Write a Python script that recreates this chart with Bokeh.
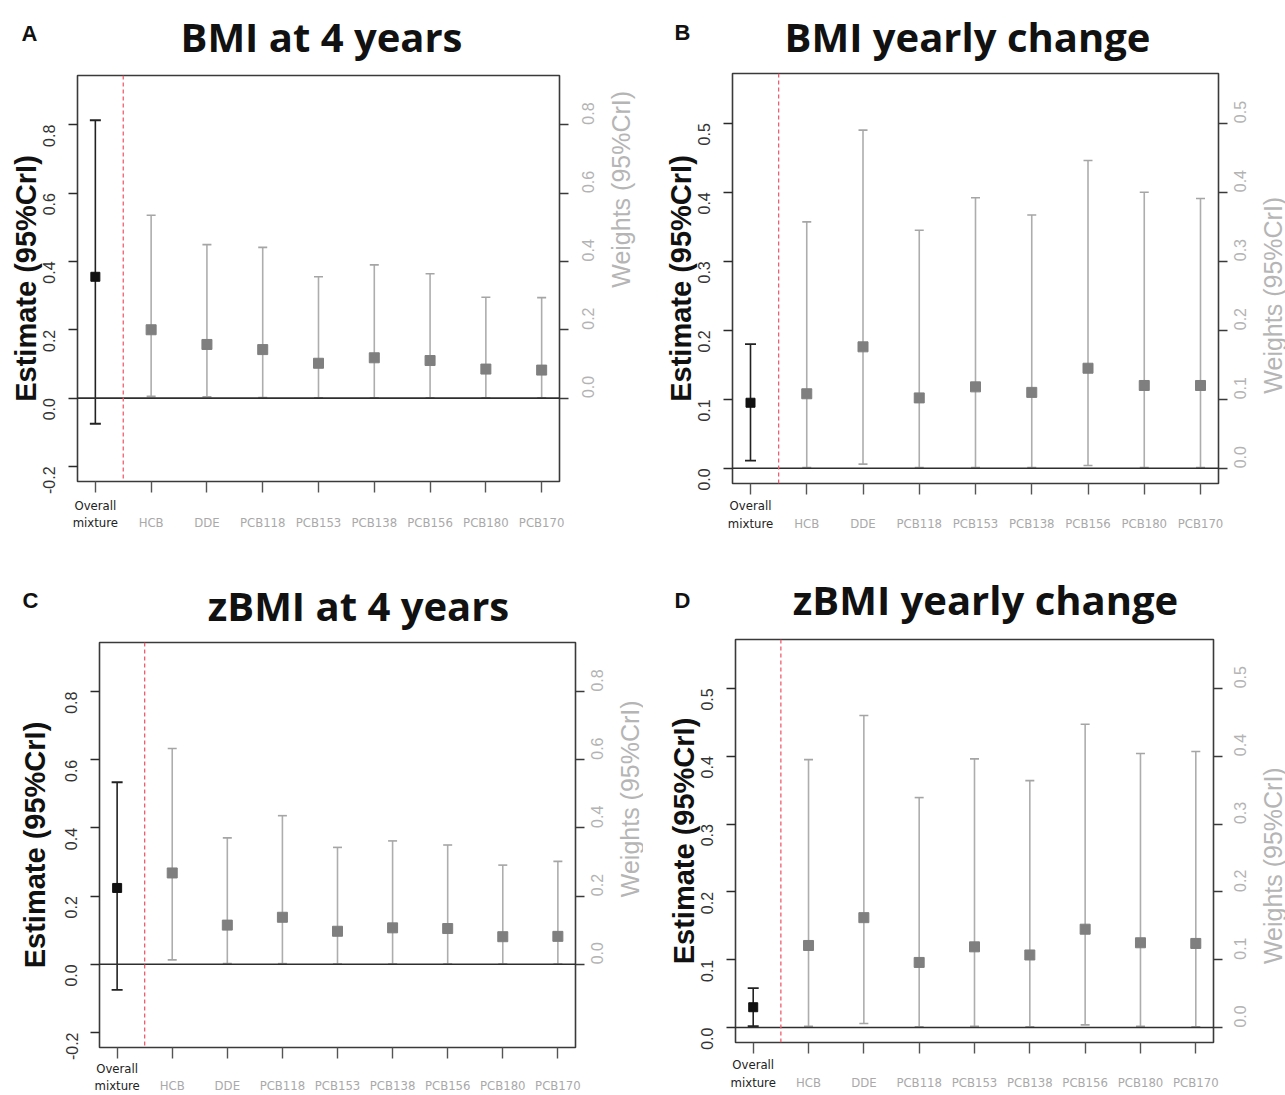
import math
from bokeh.plotting import figure
from bokeh.models import (Range1d, LinearAxis, Span, Whisker, ColumnDataSource,
                          FixedTicker, TeeHead, NumeralTickFormatter)
from bokeh.layouts import row, column
from bokeh.core.properties import value
from bokeh.embed import file_html
from bokeh.resources import INLINE

# ---------------- data ----------------
categories = ["Overall mixture", "HCB", "DDE", "PCB118", "PCB153",
              "PCB138", "PCB156", "PCB180", "PCB170"]
positions = [1, 2, 3, 4, 5, 6, 7, 8, 9]

A_est = [0.355, 0.200, 0.157, 0.142, 0.102, 0.118, 0.110, 0.085, 0.082]
A_lo = [-0.075, 0.005, 0.004, 0.002, 0.001, 0.001, 0.001, 0.001, 0.001]
A_hi = [0.813, 0.535, 0.449, 0.441, 0.355, 0.390, 0.364, 0.295, 0.294]

B_est = [0.095, 0.108, 0.176, 0.102, 0.118, 0.110, 0.145, 0.120, 0.120]
B_lo = [0.011, 0.001, 0.006, 0.001, 0.001, 0.001, 0.004, 0.001, 0.001]
B_hi = [0.180, 0.357, 0.490, 0.345, 0.392, 0.367, 0.446, 0.400, 0.391]

C_est = [0.224, 0.268, 0.115, 0.138, 0.097, 0.107, 0.105, 0.081, 0.082]
C_lo = [-0.075, 0.013, 0.002, 0.002, 0.001, 0.001, 0.001, 0.001, 0.001]
C_hi = [0.534, 0.633, 0.371, 0.436, 0.343, 0.362, 0.350, 0.291, 0.302]

D_est = [0.030, 0.121, 0.162, 0.096, 0.119, 0.107, 0.145, 0.125, 0.124]
D_lo = [0.002, 0.002, 0.006, 0.001, 0.002, 0.001, 0.004, 0.002, 0.001]
D_hi = [0.058, 0.395, 0.460, 0.339, 0.396, 0.364, 0.447, 0.404, 0.407]

ylim_level = (-0.2, 0.9)
ylim_change = (0.0, 0.55)
ticks_level_left = [-0.2, 0.0, 0.2, 0.4, 0.6, 0.8]
ticks_level_right = [0.0, 0.2, 0.4, 0.6, 0.8]
ticks_change = [0.0, 0.1, 0.2, 0.3, 0.4, 0.5]

titles = ["BMI at 4 years", "BMI yearly change", "zBMI at 4 years", "zBMI yearly change"]
letters = ["A", "B", "C", "D"]
ylabel = "Estimate (95%CrI)"
y2label = "Weights (95%CrI)"

SANS = "Liberation Sans"
NARROW = "Liberation Sans Narrow, DejaVu Sans Condensed, Liberation Sans"
TITLEF = "Open Sans"
XLIM = (0.68, 9.32)


def pad(lim):
    d = (lim[1] - lim[0]) * 0.04
    return lim[0] - d, lim[1] + d


def blank(width, height, xr, yr):
    f = figure(width=width, height=height, x_range=xr, y_range=yr,
               x_axis_type=None, y_axis_type=None, output_backend="svg",
               toolbar_location=None, min_border=0)
    f.outline_line_color = None
    f.background_fill_color = "white"
    f.border_fill_color = "white"
    return f


def make_panel(est, lo, hi, ylim, lticks, rticks, lay):
    W, H, mbl, mbt, mbr, mbb = lay["main"]
    y0, y1 = pad(ylim)

    p = figure(width=W, height=H, x_range=Range1d(*XLIM), y_range=Range1d(y0, y1),
               output_backend="svg", toolbar_location=None,
               min_border_left=mbl, min_border_top=mbt,
               min_border_right=mbr, min_border_bottom=mbb)
    p.xgrid.visible = False
    p.ygrid.visible = False
    p.outline_line_color = "#3a3a3a"
    p.outline_line_width = 1.6
    p.background_fill_color = "white"
    p.border_fill_color = "white"

    # left axis
    ya = p.yaxis[0]
    ya.ticker = FixedTicker(ticks=lticks)
    ya.formatter = NumeralTickFormatter(format="0.0")
    ya.axis_line_color = None
    ya.minor_tick_line_color = None
    ya.major_tick_in = 0
    ya.major_tick_out = 9
    ya.major_tick_line_color = "#2a2a2a"
    ya.major_tick_line_width = 1.5
    ya.major_label_orientation = math.pi / 2
    ya.major_label_standoff = 19
    ya.major_label_text_font = SANS
    ya.major_label_text_font_size = "16px"
    ya.major_label_text_color = "#333333"
    ya.axis_label = ylabel
    ya.axis_label_standoff = lay["ylab_standoff"]
    ya.axis_label_text_font = SANS
    ya.axis_label_text_font_style = "bold"
    ya.axis_label_text_font_size = "29px"
    ya.axis_label_text_color = "#111111"

    # right axis
    ra = LinearAxis(ticker=FixedTicker(ticks=rticks),
                    formatter=NumeralTickFormatter(format="0.0"))
    ra.axis_line_color = None
    ra.minor_tick_line_color = None
    ra.major_tick_in = 0
    ra.major_tick_out = 9
    ra.major_tick_line_color = "#3a3a3a"
    ra.major_tick_line_width = 1.5
    ra.major_label_orientation = math.pi / 2
    ra.major_label_standoff = lay["r_standoff"]
    ra.major_label_text_font = SANS
    ra.major_label_text_font_size = "16px"
    ra.major_label_text_color = "#b3b3b3"
    p.add_layout(ra, "right")

    # bottom axis (tick marks only; category names are drawn in the footer)
    xa = p.xaxis[0]
    xa.ticker = FixedTicker(ticks=positions)
    xa.axis_line_color = None
    xa.minor_tick_line_color = None
    xa.major_tick_in = 0
    xa.major_tick_out = 11
    xa.major_tick_line_color = "#555555"
    xa.major_tick_line_width = 1.4
    xa.major_label_text_font_size = "0px"
    xa.major_label_text_color = None
    xa.major_label_standoff = 0

    # reference lines
    p.add_layout(Span(location=0, dimension="width", line_color="#2e2e2e", line_width=1.6))
    p.add_layout(Span(location=1.5, dimension="height", line_color="#f25c6e",
                      line_dash="4 3", line_width=1.3))

    ov = ColumnDataSource(dict(x=positions[:1], est=est[:1], lo=lo[:1], hi=hi[:1]))
    ot = ColumnDataSource(dict(x=positions[1:], est=est[1:], lo=lo[1:], hi=hi[1:]))

    p.add_layout(Whisker(source=ov, base="x", upper="hi", lower="lo",
                         line_color="#222222", line_width=1.6,
                         upper_head=TeeHead(size=11, line_color="#222222", line_width=1.8),
                         lower_head=TeeHead(size=11, line_color="#222222", line_width=1.8)))
    p.add_layout(Whisker(source=ot, base="x", upper="hi", lower="lo",
                         line_color="#adadad", line_width=1.6,
                         upper_head=TeeHead(size=9, line_color="#a5a5a5", line_width=1.6),
                         lower_head=TeeHead(size=9, line_color="#a5a5a5", line_width=1.6)))
    p.scatter("x", "est", source=ov, marker="square", size=9, color="#111111")
    p.scatter("x", "est", source=ot, marker="square", size=10, color="#7f7f7f")

    # right strip with the weights label
    sw = lay["strip_w"]
    strip = blank(sw, H, Range1d(0, sw), Range1d(H, 0))
    sx, sy = lay["y2lab"]
    strip.text(x=[sx], y=[sy], text=[y2label], angle=math.pi / 2,
               text_align="center", text_baseline="middle", text_font=value(SANS),
               text_font_size="25px", text_color="#b5b5b5")

    # header with panel letter and title
    hw, hh = lay["header"]
    head = blank(hw, hh, Range1d(0, hw), Range1d(hh, 0))
    tx, ty = lay["title"]
    head.text(x=[tx], y=[ty], text=[lay["title_text"]], text_align="center",
              text_baseline="middle", text_font=value(TITLEF), text_font_style="bold",
              text_font_size="40px", text_color="#111111")
    lx, ly = lay["letter"]
    head.text(x=[lx], y=[ly], text=[lay["letter_text"]], text_align="center",
              text_baseline="middle", text_font=value(SANS), text_font_style="bold",
              text_font_size="22px", text_color="#111111")

    # footer with category labels, x mapped like the main frame
    fw = W - mbl - mbr
    k = (XLIM[1] - XLIM[0]) / fw
    fh = lay["footer_h"]
    foot = blank(W, fh, Range1d(XLIM[0] - mbl * k, XLIM[1] + mbr * k), Range1d(fh, 0))
    ly1, ly2 = lay["xlab"]
    foot.text(x=[positions[0], positions[0]], y=[ly1, ly2], text=["Overall", "mixture"],
              text_align="center", text_baseline="middle", text_font=value(NARROW),
              text_font_size="13px", text_color="#222222")
    foot.text(x=positions[1:], y=[ly2] * (len(positions) - 1), text=categories[1:],
              text_align="center", text_baseline="middle", text_font=value(NARROW),
              text_font_size="13px", text_color="#a9a9a9")

    return column(head, row(p, strip), foot)


# layout (main: W, H, min_border left, top, right, bottom)
layA = dict(header=(643, 68), main=(607, 428, 77, 7, 48, 15), strip_w=36,
            footer_h=52, xlab=(9, 26), y2lab=(13, 120), ylab_standoff=-7, r_standoff=20,
            title=(321, 36), letter=(29, 33), title_text=titles[0], letter_text=letters[0])
layB = dict(header=(642, 68), main=(616, 429, 89, 5, 41, 14), strip_w=26,
            footer_h=51, xlab=(8, 26), y2lab=(13, 232), ylab_standoff=-7, r_standoff=13,
            title=(324, 36), letter=(39, 32), title_text=titles[1], letter_text=letters[1])
layC = dict(header=(643, 88), main=(616, 425, 99, 6, 41, 14), strip_w=27,
            footer_h=34, xlab=(7, 24), y2lab=(13, 164), ylab_standoff=6, r_standoff=13,
            title=(358, 57), letter=(30, 52), title_text=titles[2], letter_text=letters[2])
layD = dict(header=(642, 84), main=(616, 424, 92, 7, 46, 14), strip_w=26,
            footer_h=39, xlab=(8, 26), y2lab=(13, 238), ylab_standoff=-7, r_standoff=18,
            title=(342, 51), letter=(39, 52), title_text=titles[3], letter_text=letters[3])

pA = make_panel(A_est, A_lo, A_hi, ylim_level, ticks_level_left, ticks_level_right, layA)
pB = make_panel(B_est, B_lo, B_hi, ylim_change, ticks_change, ticks_change, layB)
pC = make_panel(C_est, C_lo, C_hi, ylim_level, ticks_level_left, ticks_level_right, layC)
pD = make_panel(D_est, D_lo, D_hi, ylim_change, ticks_change, ticks_change, layD)

layout = column(row(pA, pB), row(pC, pD))
open("out.html", "w").write(file_html(layout, INLINE))
